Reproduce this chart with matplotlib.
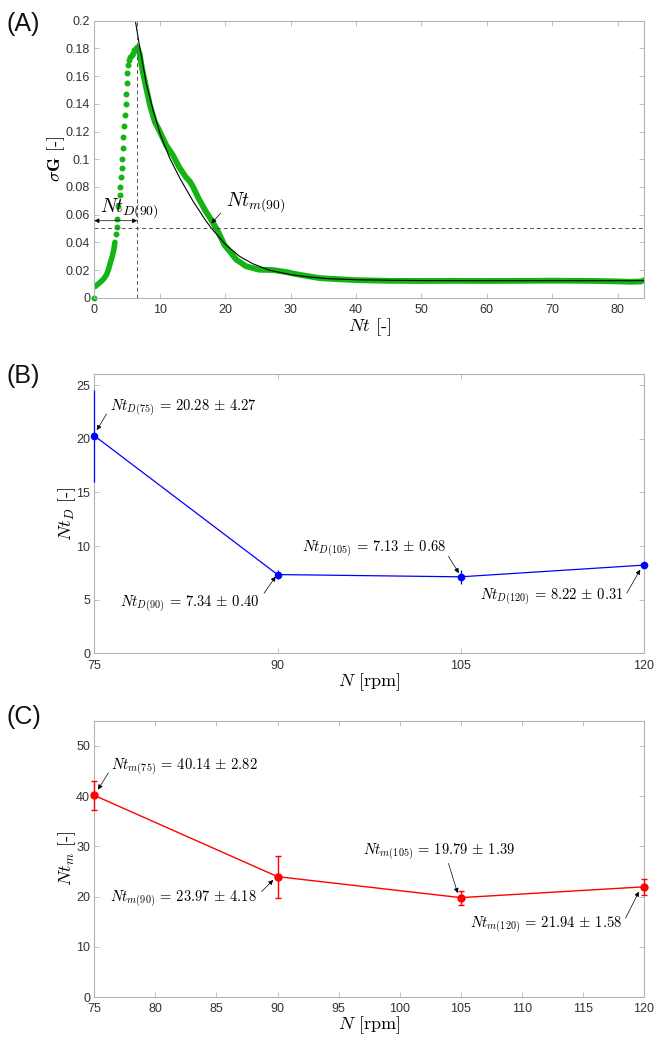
import matplotlib.pyplot as plt

plt.rcParams['mathtext.fontset'] = 'cm'
plt.rcParams['font.family'] = ['Liberation Sans', 'DejaVu Sans']

# (A) sigma G of one run at 90 rpm
nt_first = [0.0]
sg_first = [0.0]
nt_start = [0.1, 0.6, 1.1, 1.5, 1.9, 2.2, 2.5, 2.75, 2.95, 3.15]
sg_start = [0.008, 0.010, 0.012, 0.014, 0.017, 0.021, 0.026, 0.030, 0.034, 0.040]
nt_rise = [3.3, 3.4, 3.5, 3.65, 3.85, 4.0, 4.1, 4.2, 4.3, 4.35, 4.45, 4.6,
           4.7, 4.8, 4.85, 4.95, 5.05, 5.2, 5.35, 5.5, 5.7, 5.9, 6.1, 6.3, 6.5]
sg_rise = [0.046, 0.051, 0.057, 0.066, 0.074, 0.080, 0.087, 0.094, 0.100, 0.108,
           0.116, 0.124, 0.132, 0.140, 0.147, 0.155, 0.162, 0.168, 0.172, 0.174,
           0.1755, 0.177, 0.179, 0.180, 0.181]
nt_decay = [6.7, 6.95, 7.2, 7.5, 8.0, 8.5, 9.25, 10.0, 11.0, 12.0, 13.0, 14.0,
            14.6, 15.1, 15.9, 16.9, 17.9, 18.9, 19.9, 20.7, 21.7, 23.2, 25.2,
            27.3, 29.3, 31.3, 34.4, 36.0, 40.0, 45.0, 50.0, 55.0, 60.0, 65.0,
            70.0, 75.0, 80.0, 82.0, 83.5, 84.0]
sg_decay = [0.179, 0.176, 0.168, 0.161, 0.150, 0.139, 0.127, 0.120, 0.110, 0.103,
            0.094, 0.087, 0.084, 0.080, 0.072, 0.0635, 0.056, 0.048, 0.038, 0.0335,
            0.0275, 0.0227, 0.0202, 0.0200, 0.0186, 0.0166, 0.0142, 0.0137, 0.0127,
            0.0122, 0.0121, 0.0122, 0.0121, 0.0122, 0.0123, 0.0122, 0.0118, 0.0115,
            0.0117, 0.0125]
# exponential decay fit
nt_fit = [6.2, 6.97, 7.98, 9.0, 10.1, 11.5, 13.06, 15.1, 17.1, 18.1, 20.07, 22.2,
          24.2, 26.8, 30.1, 32.9, 35.9, 40.0, 45.0, 50.0, 60.0, 70.0, 84.0]
sg_fit = [0.202, 0.180, 0.1538, 0.135, 0.1177, 0.101, 0.0864, 0.0696, 0.0552,
          0.049, 0.0383, 0.0299, 0.0246, 0.0198, 0.0166, 0.0149, 0.0137, 0.0130,
          0.0126, 0.0124, 0.0123, 0.0123, 0.0123]
nt_d_run = 6.55
sg_limit = 0.05

# (B), (C) mean +- std over the repeats
rpm = [75, 90, 105, 120]
ntd_mean = [20.28, 7.34, 7.13, 8.22]
ntd_std = [4.27, 0.40, 0.68, 0.31]
ntm_mean = [40.14, 23.97, 19.79, 21.94]
ntm_std = [2.82, 4.18, 1.39, 1.58]

green = '#14b414'
spine_grey = '#b4b4b4'


def style(ax):
    for s in ax.spines.values():
        s.set_color(spine_grey)
        s.set_linewidth(0.8)
    ax.tick_params(direction='in', top=True, right=True, length=3.5, width=0.6,
                   color=spine_grey, labelcolor='#333333', labelsize=9, pad=3)
    ax.tick_params(axis='x', pad=4.5)


def arrow(ax, head, tail):
    ax.annotate('', xy=head, xytext=tail,
                arrowprops=dict(arrowstyle='-|>', color='k', lw=0.5,
                                mutation_scale=7, shrinkA=0, shrinkB=0))


def unclip(container):
    line, caps, bars = container
    for art in [line, *caps, *bars]:
        art.set_clip_on(False)


fig = plt.figure(figsize=(6.55, 10.37), dpi=100)
axA = fig.add_axes([0.144, 0.7129, 0.839, 0.2671])
axB = fig.add_axes([0.144, 0.370, 0.839, 0.269])
axC = fig.add_axes([0.144, 0.0385, 0.839, 0.2665])

# ---- (A)
axA.plot(nt_first, sg_first, 'o', color=green, ms=4.3, mec='none', clip_on=False)
axA.plot(nt_start, sg_start, '-', color=green, lw=4, solid_capstyle='round')
axA.plot(nt_rise, sg_rise, 'o', color=green, ms=4.3, mec='none')
axA.plot(nt_decay, sg_decay, '-', color=green, lw=4.2, solid_capstyle='round')
axA.plot(nt_fit, sg_fit, '-', color='k', lw=0.8)
axA.axhline(sg_limit, color='#555555', lw=0.7, ls=(0, (4, 3)))
axA.axvline(nt_d_run, color='#555555', lw=0.7, ls=(0, (4, 3)))
axA.annotate('', xy=(0, 0.0556), xytext=(nt_d_run, 0.0556),
             arrowprops=dict(arrowstyle='<|-|>', color='k', lw=0.5,
                             mutation_scale=7, shrinkA=0, shrinkB=0))
axA.text(0.9, 0.0645, r'$Nt_{D(90)}$', fontsize=14, va='center', ha='left')
axA.text(20.2, 0.069, r'$Nt_{m(90)}$', fontsize=14, va='center', ha='left')
arrow(axA, (17.9, 0.0537), (19.3, 0.061))
axA.set_xlim(0, 84)
axA.set_ylim(0, 0.2)
axA.set_xticks(range(0, 81, 10))
axA.set_yticks([i / 100 for i in range(0, 21, 2)])
axA.set_yticklabels(['0', '0.02', '0.04', '0.06', '0.08', '0.1', '0.12', '0.14',
                     '0.16', '0.18', '0.2'])
axA.set_xlabel(r'$Nt$ [-]', fontsize=13, family='cmr10', labelpad=0.5)
axA.set_ylabel(r'$\sigma\mathbf{G}$ [-]', fontsize=13, family='cmr10', labelpad=-1)
style(axA)

# ---- (B)
eb = axB.errorbar(rpm, ntd_mean, yerr=ntd_std, color='#0000ff', lw=0.9, marker='o',
                  ms=4.5, elinewidth=0.9, capsize=0, zorder=3)
unclip(eb)
b_text = [(76.3, 22.9), (77.1, 4.67), (92.0, 9.81), (106.6, 5.29)]
b_tail = [(76.0, 22.3), (88.9, 5.6), (104.0, 9.03), (118.6, 5.6)]
b_head = [(75.2, 20.8), (89.85, 7.16), (104.85, 7.48), (119.7, 7.8)]
for n, m, s, tp, tl, hd in zip(rpm, ntd_mean, ntd_std, b_text, b_tail, b_head):
    axB.text(tp[0], tp[1], r'$Nt_{D(%d)}\,=\,%.2f\,\pm\,%.2f$' % (n, m, s),
             fontsize=10.5, va='center', ha='left')
    arrow(axB, hd, tl)
axB.set_xlim(75, 120)
axB.set_ylim(0, 26)
axB.set_xticks(rpm)
axB.set_yticks(range(0, 26, 5))
axB.set_xlabel(r'$N$ [rpm]', fontsize=13, family='cmr10', labelpad=0)
axB.set_ylabel(r'$Nt_D$ [-]', fontsize=13, family='cmr10', labelpad=-1)
style(axB)

# ---- (C)
eb = axC.errorbar(rpm, ntm_mean, yerr=ntm_std, color='#ff0000', lw=1.0, marker='o',
                  ms=5, elinewidth=1.0, capsize=2.5, capthick=1.0, zorder=3)
unclip(eb)
c_text = [(76.4, 45.9), (76.3, 19.7), (97.0, 28.9), (105.8, 14.4)]
c_tail = [(76.15, 44.6), (88.7, 21.0), (104.0, 26.6), (118.5, 15.7)]
c_head = [(75.3, 41.3), (89.65, 23.3), (104.75, 20.7), (119.6, 21.0)]
for n, m, s, tp, tl, hd in zip(rpm, ntm_mean, ntm_std, c_text, c_tail, c_head):
    axC.text(tp[0], tp[1], r'$Nt_{m(%d)}\,=\,%.2f\,\pm\,%.2f$' % (n, m, s),
             fontsize=10.5, va='center', ha='left')
    arrow(axC, hd, tl)
axC.set_xlim(75, 120)
axC.set_ylim(0, 55)
axC.set_xticks(range(75, 121, 5))
axC.set_yticks(range(0, 51, 10))
axC.set_xlabel(r'$N$ [rpm]', fontsize=13, family='cmr10', labelpad=-1)
axC.set_ylabel(r'$Nt_m$ [-]', fontsize=13, family='cmr10', labelpad=-1)
style(axC)

for lab, y in (('(A)', 1 - 23.5 / 1037), ('(B)', 1 - 375.5 / 1037), ('(C)', 1 - 717 / 1037)):
    fig.text(7 / 655, y, lab, fontsize=18, va='center', ha='left', color='#111111')

fig.savefig('out.png', dpi=100)
